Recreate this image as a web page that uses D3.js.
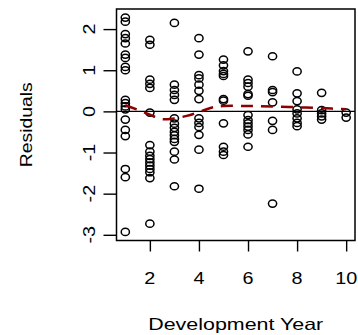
<!DOCTYPE html>
<html>
<head>
<meta charset="utf-8">
<script src="https://cdn.jsdelivr.net/npm/d3@7"></script>
<style>
  body { margin: 0; background: #ffffff; }
  svg { display: block; }
  text { font-family: "Liberation Sans", Arial, sans-serif; fill: #000; }
</style>
</head>
<body>
<svg id="chart" width="358" height="335"></svg>
<script>
// development years and the residuals plotted above each one
const years = [1, 2, 3, 4, 5, 6, 7, 8, 9, 10];
const residuals = [
  [2.28, 2.18, 1.88, 1.78, 1.65, 1.38, 1.30, 1.08, 1.00, 0.28, 0.20, 0.12, 0.05, -0.20, -0.45, -0.60, -1.40, -1.60, -2.93],
  [1.74, 1.62, 0.77, 0.67, 0.57, -0.03, -0.82, -0.98, -1.08, -1.16, -1.24, -1.32, -1.40, -1.48, -1.62, -2.73],
  [2.15, 0.65, 0.52, 0.40, 0.28, -0.17, -0.30, -0.40, -0.50, -0.58, -0.67, -0.74, -0.98, -1.17, -1.82],
  [1.78, 1.38, 0.88, 0.80, 0.65, 0.50, 0.30, -0.17, -0.28, -0.38, -0.57, -0.93, -1.88],
  [1.26, 1.12, 0.98, 0.91, 0.86, 0.30, 0.26, -0.29, -0.86, -0.98, -1.06],
  [1.46, 0.77, 0.69, 0.60, 0.42, 0.38, -0.09, -0.21, -0.29, -0.37, -0.45, -0.56, -0.86],
  [1.34, 0.52, 0.47, 0.22, -0.23, -0.45, -2.24],
  [0.97, 0.44, 0.25, 0.05, -0.05, -0.17, -0.28, -0.36],
  [0.45, 0.03, -0.05, -0.12, -0.20],
  [-0.03, -0.15]
];

// smoothed trend (red dashed)
const smoothX = [1, 1.5, 2, 2.5, 3, 3.5, 4, 4.5, 5, 6, 7, 8, 9, 10];
const smoothY = [0.15, 0.04, -0.08, -0.19, -0.17, -0.11, -0.02, 0.09, 0.13, 0.13, 0.12, 0.10, 0.08, 0.05];

const xTicks = [2, 4, 6, 8, 10];
const yTicks = [-3, -2, -1, 0, 1, 2];

const points = [];
years.forEach((yr, i) => residuals[i].forEach(r => points.push({ year: yr, res: r })));

const box = { left: 116.5, right: 355, top: 9, bottom: 240.5 };
const svg = d3.select("#chart");

// R style 4% padding on both scales
function padded(ext) {
  const d = (ext[1] - ext[0]) * 0.04;
  return [ext[0] - d, ext[1] + d];
}
const x = d3.scaleLinear().domain(padded(d3.extent(years))).range([box.left, box.right]);
const y = d3.scaleLinear().domain(padded(d3.extent(points, d => d.res))).range([box.bottom, box.top]);

// axes
const xAxis = svg.append("g")
  .attr("transform", `translate(0,${box.bottom})`)
  .call(d3.axisBottom(x).tickValues(xTicks).tickSize(11).tickSizeOuter(0).tickFormat(""));
xAxis.select(".domain").remove();
xAxis.selectAll(".tick line").attr("stroke", "#000").attr("stroke-width", 1.4);

const yAxis = svg.append("g")
  .attr("transform", `translate(${box.left},0)`)
  .call(d3.axisLeft(y).tickValues(yTicks).tickSize(13).tickSizeOuter(0).tickFormat(""));
yAxis.select(".domain").remove();
yAxis.selectAll(".tick line").attr("stroke", "#000").attr("stroke-width", 1.4);

// tick labels
svg.append("g").selectAll("text")
  .data(xTicks).enter().append("text")
  .attr("transform", d => `translate(${x(d)},283.5) scale(1.2,1)`)
  .attr("text-anchor", "middle")
  .style("font-size", "16.5px")
  .text(d => d);

svg.append("g").selectAll("text")
  .data(yTicks).enter().append("text")
  .attr("transform", d => `translate(94.5,${y(d)}) rotate(-90) scale(1.2,1)`)
  .attr("text-anchor", "middle")
  .style("font-size", "16.5px")
  .text(d => d);

// axis titles
svg.append("text")
  .attr("x", (box.left + box.right) / 2)
  .attr("y", 330)
  .attr("text-anchor", "middle")
  .attr("textLength", 175)
  .attr("lengthAdjust", "spacingAndGlyphs")
  .style("font-size", "16.5px")
  .text("Development Year");

svg.append("text")
  .attr("transform", `translate(32,${(box.top + box.bottom) / 2}) rotate(-90)`)
  .attr("text-anchor", "middle")
  .attr("textLength", 85)
  .attr("lengthAdjust", "spacingAndGlyphs")
  .style("font-size", "16.5px")
  .text("Residuals");

// zero reference line
svg.append("line")
  .attr("x1", box.left).attr("x2", box.right)
  .attr("y1", y(0)).attr("y2", y(0))
  .attr("stroke", "#000").attr("stroke-width", 1.4);

// points
svg.append("g").selectAll("ellipse")
  .data(points).enter().append("ellipse")
  .attr("cx", d => x(d.year))
  .attr("cy", d => y(d.res))
  .attr("rx", 4.1).attr("ry", 3.6)
  .attr("fill", "none")
  .attr("stroke", "#000")
  .attr("stroke-width", 1.5);

// smooth
const line = d3.line()
  .x(d => x(d[0]))
  .y(d => y(d[1]))
  .curve(d3.curveCatmullRom);
svg.append("path")
  .attr("d", line(smoothX.map((v, i) => [v, smoothY[i]])))
  .attr("fill", "none")
  .attr("stroke", "#8b0000")
  .attr("stroke-width", 2.5)
  .attr("stroke-dasharray", "12,8");

// plot box
svg.append("rect")
  .attr("x", box.left).attr("y", box.top)
  .attr("width", box.right - box.left).attr("height", box.bottom - box.top)
  .attr("fill", "none").attr("stroke", "#000").attr("stroke-width", 1.5);
</script>
</body>
</html>
